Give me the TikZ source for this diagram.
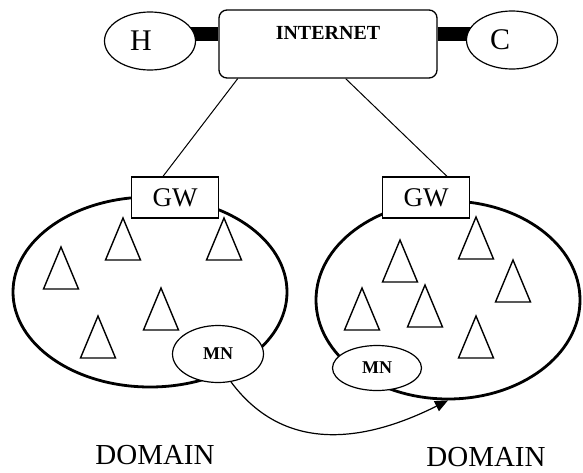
\documentclass[tikz,border=0pt]{standalone}
\usepackage{fontspec}
\setmainfont{Liberation Serif}
\usetikzlibrary{shapes.geometric,arrows.meta,backgrounds}
\tikzset{
  endpt/.style={draw, ellipse, line width=1.2pt, fill=white, minimum width=91pt, minimum height=58pt, inner sep=0pt, font=\fontsize{30}{30}\selectfont},
  netbox/.style={draw, rounded corners=8pt, line width=1.3pt, fill=white, minimum width=218pt, minimum height=68pt, inner sep=0pt},
  gwbox/.style={draw, line width=1.3pt, fill=white, minimum width=87pt, minimum height=41pt, inner sep=0pt, font=\fontsize{27}{27}\selectfont},
  domainell/.style={draw, ellipse, line width=2.8pt, inner sep=0pt},
  mnell/.style={draw, ellipse, line width=1.2pt, fill=white, inner sep=0pt, font=\bfseries\fontsize{18}{18}\selectfont},
  bar/.style={line width=14pt},
  link/.style={line width=1pt},
  tri/.style={line width=1.4pt, line join=miter},
  move/.style={line width=1.2pt, -{Triangle[length=13pt,width=11pt]}},
  dlabel/.style={font=\fontsize{29}{29}\selectfont}
}
\begin{document}
\begin{tikzpicture}[x=1pt,y=-1pt]
\useasboundingbox (0,0) rectangle (583,472);
% domains
\node[domainell, minimum width=274pt, minimum height=190pt] (dL) at (150,292) {};
\node[domainell, minimum width=264pt, minimum height=198pt] (dR) at (448,300) {};
% triangles (left)
\foreach \x/\y in {123/218, 224/218, 61/247, 161/288, 98/316}
  \draw[tri] (\x,\y) -- ++(-17.5,42) -- ++(35,0) -- cycle;
% triangles (right)
\foreach \x/\y in {476/217, 400/240, 513/260, 362/288, 425/285, 476/316}
  \draw[tri] (\x,\y) -- ++(-17.5,42) -- ++(35,0) -- cycle;
% top
\node[netbox] (inet) at (328,44) {};
\node[font=\bfseries\fontsize{20}{20}\selectfont] (inettext) at ([yshift=11pt]inet.center) {INTERNET};
\node[endpt] (H) at (150,41) {H\hspace*{18pt}};
\node[endpt] (C) at (512,40) {C\hspace*{24pt}};
\begin{scope}[on background layer]
  \draw[bar] ([yshift=10pt]inet.west) -- ([yshift=10pt]inet.west -| H.center);
  \draw[bar] ([yshift=10pt]inet.east) -- ([yshift=10pt]inet.east -| C.center);
\end{scope}
% gateways
\node[gwbox] (gwL) at (175,197.5) {GW};
\node[gwbox] (gwR) at (426,197.5) {GW};
\draw[link] (inet.201.8) -- ([xshift=-12pt]gwL.north);
\draw[link] (inet.-63.4) -- ([xshift=21pt]gwR.north);
% mobile nodes
\node[mnell, minimum width=91pt, minimum height=57pt] (mnL) at (218,354) {MN};
\node[mnell, minimum width=89pt, minimum height=45pt] (mnR) at (377,368) {MN};
% movement
\draw[move] (mnL.-65) .. controls +(55,74) and +(-80,40) .. (dR.south);
% labels
\node[dlabel] (domL) at (155,455) {DOMAIN};
\node[dlabel] (domR) at (486,457) {DOMAIN};
\end{tikzpicture}
\end{document}
